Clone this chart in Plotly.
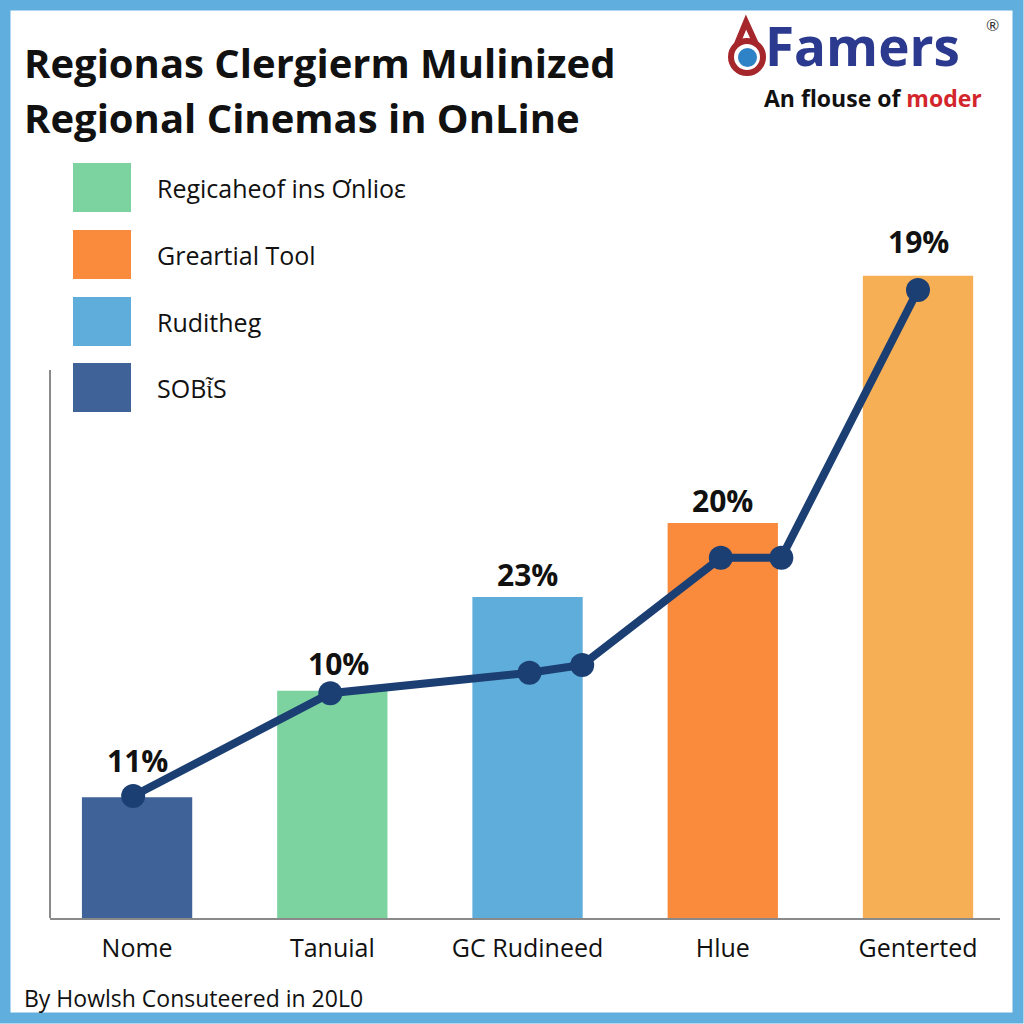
import plotly.graph_objects as go

# ---- data ----
categories = ["Nome", "Tanuial", "GC Rudineed", "Hlue", "Genterted"]
bar_values = [18.8, 35.4, 50.0, 61.5, 100.0]
bar_labels = ["11%", "10%", "23%", "20%", "19%"]
bar_colors = ["#3F6399", "#7DD3A0", "#5EADDB", "#FA8A3C", "#F6AF55"]
line_x = [-0.02, 0.99, 2.01, 2.28, 2.99, 3.30, 4.0]
line_y = [19.0, 35.0, 38.2, 39.4, 56.1, 56.1, 97.8]
legend_names = ["Regicaheof ins Ơnlioε", "Greartial Tool", "Ruditheg", "SOBἶS"]
legend_colors = ["#7DD3A0", "#FA8A3C", "#5EADDB", "#3F6399"]

W, H = 1024, 1024
L, R, T, B = 50, 24, 150, 106
XR = [-0.446, 4.42]
YR = [0, 119.6]

def px(xp):
    return (xp - L) / (W - L - R)

def py(yp):
    return (H - B - yp) / (H - T - B)

fig = go.Figure()
xs = list(range(len(categories)))
fig.add_trace(go.Bar(x=xs, y=bar_values, width=0.565, marker=dict(color=bar_colors, line=dict(width=0)),
                     showlegend=False, hoverinfo="skip"))
fig.add_trace(go.Scatter(x=line_x, y=line_y, mode="lines+markers",
                         line=dict(color="#1C3F73", width=8),
                         marker=dict(size=24, color="#1C3F73"), showlegend=False))

# percentage labels
label_shift = [14, 5, 0, 0, 12]
for i, (v, t) in enumerate(zip(bar_values, bar_labels)):
    fig.add_annotation(x=i + (0.03 if i == 1 else 0), y=v, text="<b>" + t + "</b>", showarrow=False,
                       yanchor="bottom", yshift=label_shift[i],
                       font=dict(size=30, color="#111", family="Open Sans"))

shapes = []
# border
shapes.append(dict(type="rect", xref="paper", yref="paper", x0=px(5), x1=px(1018), y0=py(5), y1=py(1018),
                   line=dict(color="#5FAEDE", width=11), fillcolor="rgba(0,0,0,0)", layer="above"))
# y axis partial line
shapes.append(dict(type="line", xref="paper", yref="paper", x0=px(50), x1=px(50), y0=py(370), y1=py(918),
                   line=dict(color="#8A8A8A", width=2)))
# legend squares
leg_top = [163, 230, 297, 363]
for yt, c, n in zip(leg_top, legend_colors, legend_names):
    shapes.append(dict(type="rect", xref="paper", yref="paper", x0=px(73), x1=px(131), y0=py(yt + 49), y1=py(yt),
                       line=dict(width=0), fillcolor=c))
    fig.add_annotation(xref="paper", yref="paper", x=px(155), y=py(yt + 25), text=n, showarrow=False,
                       xanchor="left", yanchor="middle", font=dict(size=25, color="#111", family="Open Sans"))
# logo icon
shapes.append(dict(type="circle", xref="paper", yref="paper", x0=px(731), x1=px(763), y0=py(73), y1=py(41),
                   line=dict(color="#A5262B", width=6), fillcolor="white"))
shapes.append(dict(type="circle", xref="paper", yref="paper", x0=px(738), x1=px(757), y0=py(67), y1=py(48),
                   line=dict(width=0), fillcolor="#2E82C6"))
shapes.append(dict(type="path", xref="paper", yref="paper",
                   path=f"M {px(737)} {py(44)} L {px(746)} {py(22)} L {px(756)} {py(44)}",
                   line=dict(color="#A5262B", width=6)))
fig.update_layout(shapes=shapes)

# title
fig.add_annotation(xref="paper", yref="paper", x=px(22), y=py(62), text="<b>Regionas Clergierm Mulinized</b>",
                   showarrow=False, xanchor="left", yanchor="middle",
                   font=dict(size=40, color="#111", family="Open Sans", weight=800))
fig.add_annotation(xref="paper", yref="paper", x=px(22), y=py(117), text="<b>Regional Cinemas in OnLine</b>",
                   showarrow=False, xanchor="left", yanchor="middle",
                   font=dict(size=40, color="#111", family="Open Sans", weight=800))
# logo text
fig.add_annotation(xref="paper", yref="paper", x=px(763), y=py(46), text="<b>Famers</b>", showarrow=False,
                   xanchor="left", yanchor="middle",
                   font=dict(size=53, color="#2B3A8E", family="Open Sans", weight=800))
fig.add_annotation(xref="paper", yref="paper", x=px(992), y=py(24), text="®", showarrow=False,
                   xanchor="center", yanchor="middle", font=dict(size=16, color="#333", family="Lato"))
fig.add_annotation(xref="paper", yref="paper", x=px(762), y=py(98),
                   text="<b>An flouse of <span style='color:#D3262C'>moder</span></b>", showarrow=False,
                   xanchor="left", yanchor="middle", font=dict(size=23, color="#111", family="Open Sans"))
# footer
fig.add_annotation(xref="paper", yref="paper", x=px(22), y=py(998), text="By Howlsh Consuteered in 20L0",
                   showarrow=False, xanchor="left", yanchor="middle", font=dict(size=23, color="#111", family="Open Sans"))

fig.update_layout(
    width=W, height=H, margin=dict(l=L, r=R, t=T, b=B),
    paper_bgcolor="white", plot_bgcolor="white",
    xaxis=dict(range=XR, tickmode="array", tickvals=xs, ticktext=categories, showgrid=False, zeroline=False,
               showline=True, linecolor="#8A8A8A", linewidth=2, ticks="", ticklabelstandoff=7,
               tickfont=dict(size=25, color="#111", family="Open Sans")),
    yaxis=dict(range=YR, showgrid=False, zeroline=False, showline=False, showticklabels=False, ticks=""),
    bargap=0.4,
)
fig.write_html("out.html")
